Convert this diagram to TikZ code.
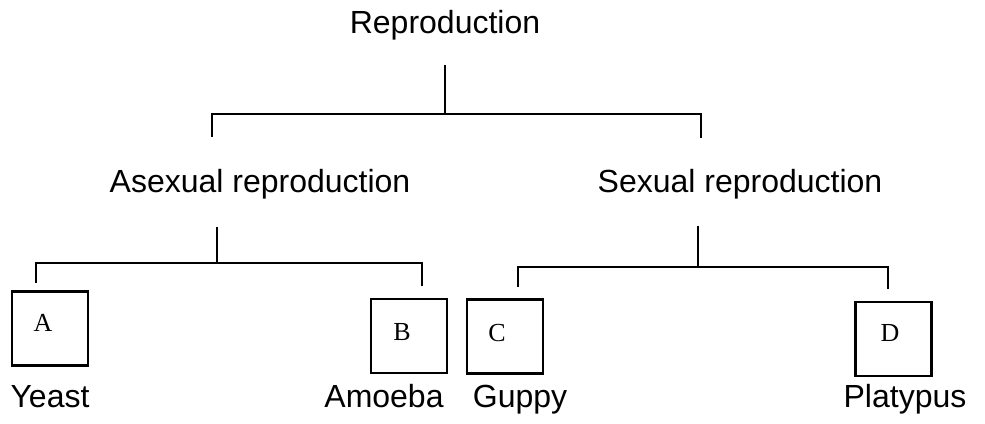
\documentclass[tikz,border=0pt]{standalone}
\usepackage{fontspec}
\setmainfont{Liberation Sans}
\newfontfamily\letterfont{Liberation Serif}

\tikzset{
  lbl/.style={anchor=base,inner sep=0pt,font=\fontsize{16}{19}\selectfont},
  sq/.style={draw,line width=1.1pt,minimum width=38pt,minimum height=37pt,inner sep=0pt},
  let/.style={inner sep=0pt,font=\letterfont\fontsize{13}{15}\selectfont},
  br/.style={line width=0.9pt},
}

\begin{document}
\begin{tikzpicture}[x=0.5pt,y=-0.5pt]
  \useasboundingbox (0,0) rectangle (985,423);
  \node[lbl] (repro) at (445,33) {Reproduction};
  \node[lbl] (asex) at (260,192) {Asexual reproduction};
  \node[lbl] (sex) at (740,192) {Sexual reproduction};

  \node[sq] (boxA) at (50,328.5) {};
  \node[sq] (boxB) at (409,336) {};
  \node[sq] (boxC) at (505,336.5) {};
  \node[sq] (boxD) at (893.5,339) {};
  \node[let] (a) at (43,323) {A};
  \node[let] (b) at (402,332) {B};
  \node[let] (c) at (497,333) {C};
  \node[let] (d) at (890,333) {D};

  \node[lbl] (yeast) at (50,407) {Yeast};
  \node[lbl] (amoeba) at (384,407) {Amoeba};
  \node[lbl] (guppy) at (520,407) {Guppy};
  \node[lbl] (platypus) at (905,407) {Platypus};

  \coordinate (t0) at (445,65);
  \coordinate (t1) at (445,114);
  \coordinate (t2) at (212,114);
  \coordinate (t3) at (212,137);
  \coordinate (t4) at (701,114);
  \coordinate (t5) at (701,138);
  \draw[br] (t0) -- (t1);
  \draw[br] (t3) -- (t2) -- (t4) -- (t5);

  \coordinate (l0) at (217,227);
  \coordinate (l1) at (217,263);
  \coordinate (l2) at (36,263);
  \coordinate (l3) at (36,283);
  \coordinate (l4) at (422,263);
  \coordinate (l5) at (422,286);
  \draw[br] (l0) -- (l1);
  \draw[br] (l3) -- (l2) -- (l4) -- (l5);

  \coordinate (r0) at (698,226);
  \coordinate (r1) at (698,267);
  \coordinate (r2) at (518,267);
  \coordinate (r3) at (518,287);
  \coordinate (r4) at (888,267);
  \coordinate (r5) at (888,289);
  \draw[br] (r0) -- (r1);
  \draw[br] (r3) -- (r2) -- (r4) -- (r5);
\end{tikzpicture}
\end{document}
